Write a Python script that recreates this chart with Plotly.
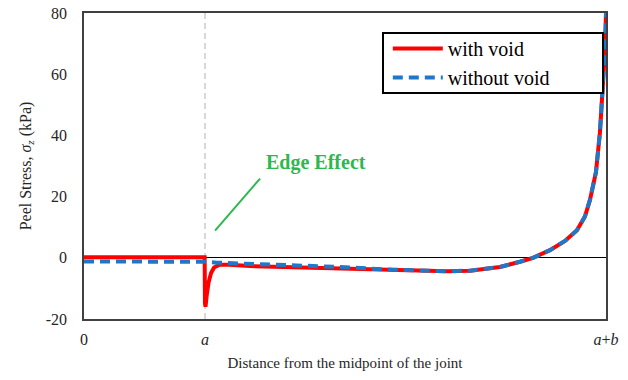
import plotly.graph_objects as go

# x in units of a (a = 1, a+b = 4.314)
x_with = [0.0, 0.5, 0.997, 1.0, 1.004, 1.015, 1.03, 1.05, 1.075, 1.12, 1.2, 1.372, 1.785, 2.116,
          2.554, 2.777, 3.0, 3.19, 3.438, 3.603, 3.711, 3.851, 3.975, 4.074, 4.14, 4.182,
          4.231, 4.264, 4.289, 4.306, 4.314]
y_with = [0.2, 0.2, 0.2, -15.0, -16.0, -12.0, -8.0, -5.0, -3.2, -2.3, -2.3, -2.7, -3.2, -3.5,
          -3.9, -4.2, -4.4, -4.2, -3.0, -1.3, 0.0, 2.5, 5.5, 9.0, 13.5, 19.0,
          28.0, 41.0, 55.0, 68.0, 80.0]

x_without = [0.0, 0.5, 1.0, 1.1, 1.372, 1.785, 2.116, 2.554, 2.777, 3.0, 3.19, 3.438, 3.603,
             3.711, 3.851, 3.975, 4.074, 4.14, 4.182, 4.231, 4.264, 4.289, 4.306, 4.314]
y_without = [-1.2, -1.2, -1.3, -1.6, -1.9, -2.5, -3.0, -3.9, -4.2, -4.4, -4.2, -3.0, -1.3,
             0.0, 2.5, 5.5, 9.0, 13.5, 19.0, 28.0, 41.0, 55.0, 68.0, 80.0]

x_tick_vals = [0, 1, 4.314]
x_tick_text = ["0", "<i>a</i>", "<i>a</i>+<i>b</i>"]
y_tick_vals = [-20, 0, 20, 40, 60, 80]
y_tick_text = ["-20", "0", "20", "40", "60", "80"]

SERIF = "Liberation Serif, Times New Roman, serif"

fig = go.Figure()
fig.add_trace(go.Scatter(x=x_with, y=y_with, mode="lines", name="with void",
                         line=dict(color="#FF0000", width=4)))
fig.add_trace(go.Scatter(x=x_without, y=y_without, mode="lines", name="without void",
                         line=dict(color="#1F77C8", width=4, dash="10px,6px")))

fig.add_vline(x=1, line=dict(color="#BFBFBF", width=1.2, dash="6px,4px"), layer="below")

fig.add_shape(type="line", x0=1.083, y0=8.9, x1=1.455, y1=25.9,
              line=dict(color="#2DB84D", width=2))
fig.add_annotation(x=1.917, y=31.1, text="<b>Edge Effect</b>", showarrow=False,
                   font=dict(family=SERIF, size=20, color="#2DB84D"))

# legend frame
fig.add_shape(type="rect", xref="paper", yref="paper",
              x0=0.5728, x1=0.9943, y0=0.7386, y1=0.9346,
              line=dict(color="black", width=2), fillcolor="white", layer="above")

fig.update_layout(
    width=628, height=380,
    margin=dict(l=84, r=22, t=13, b=61),
    plot_bgcolor="white", paper_bgcolor="white",
    font=dict(family=SERIF, size=16, color="#262626"),
    showlegend=True,
    legend=dict(x=0.582, y=0.948, xanchor="left", yanchor="top",
                bgcolor="rgba(0,0,0,0)", borderwidth=0,
                font=dict(family=SERIF, size=20, color="black"),
                itemwidth=50, tracegroupgap=0),
    xaxis=dict(range=[0, 4.314], tickvals=x_tick_vals, ticktext=x_tick_text,
               showgrid=False, zeroline=False, showline=True, mirror=True,
               linecolor="#404040", linewidth=1.5, ticks="", ticklabelstandoff=5,
               automargin=False,
               title=dict(text="Distance from the midpoint of the joint", standoff=11,
                          font=dict(size=15))),
    yaxis=dict(range=[-20, 80], tickvals=y_tick_vals, ticktext=y_tick_text,
               showgrid=False, zeroline=True, zerolinecolor="black", zerolinewidth=1,
               showline=True, mirror=True, linecolor="#404040", linewidth=1.5,
               ticks="", ticklabelstandoff=12, automargin=False,
               title=dict(text="Peel Stress, <i>σ<sub>z</sub></i> (kPa)", standoff=10,
                          font=dict(size=16))),
)

fig.write_html("out.html", config={"displayModeBar": False},
               post_script="document.body.style.margin='0';")
